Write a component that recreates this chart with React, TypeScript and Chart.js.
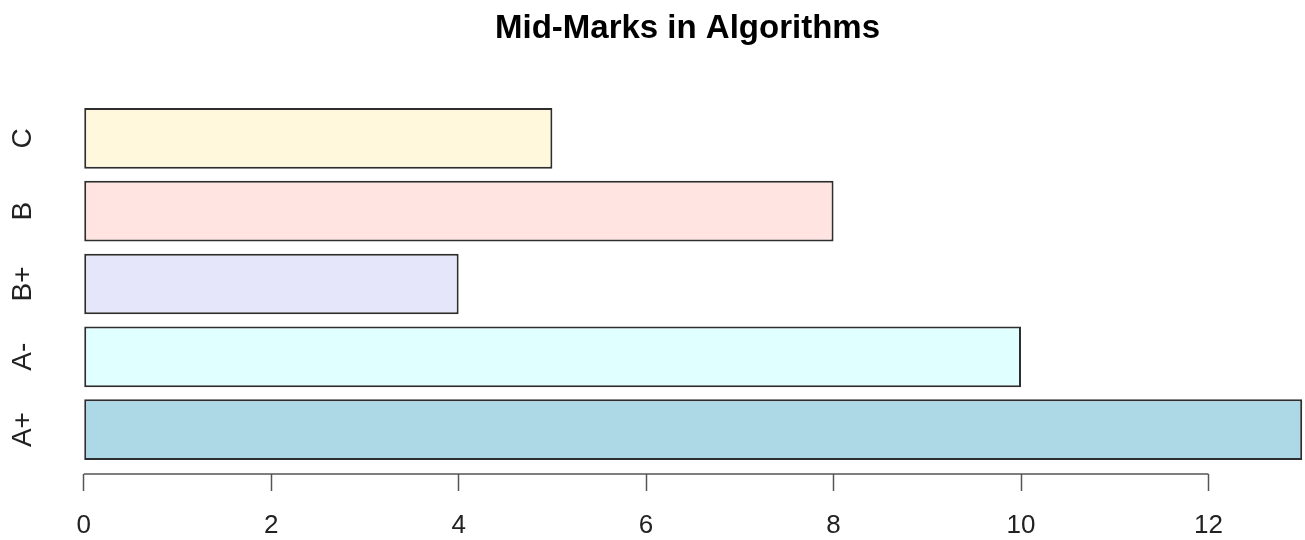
import React, { useEffect, useRef } from "react";
import { Chart, registerables } from "chart.js";

Chart.register(...registerables);

const categories = ["A+", "A-", "B+", "B", "C"];
const marks = [13, 10, 4, 8, 5];
const barColors = ["#ADD8E6", "#E0FFFF", "#E6E6FA", "#FFE4E1", "#FFF8DC"];
const xTicks = [0, 2, 4, 6, 8, 10, 12];
// R barplot positions (space = 0.2, width = 1)
const barCenters = [0.7, 1.9, 3.1, 4.3, 5.5];

const FONT = "'Liberation Sans', Arial, Helvetica, sans-serif";

const axisLinePlugin = {
  id: "rAxisLine",
  afterLayout(chart: any) {
    // R centres the title over the (wider) plot region
    const tb = chart.titleBlock;
    if (tb) {
      tb.left += 35;
      tb.right += 35;
    }
  },
  afterDraw(chart: any) {
    const xs = chart.scales.x;
    const ctx = chart.ctx;
    const y = chart.chartArea.bottom;
    ctx.save();
    ctx.strokeStyle = "#555555";
    ctx.lineWidth = 1.5;
    ctx.beginPath();
    ctx.moveTo(xs.getPixelForValue(xTicks[0]), y);
    ctx.lineTo(xs.getPixelForValue(xTicks[xTicks.length - 1]), y);
    ctx.stroke();
    ctx.restore();
  },
};

export default function App() {
  const ref = useRef<HTMLCanvasElement>(null);
  useEffect(() => {
    document.body.style.margin = "0";
    const chart = new Chart(ref.current!, {
      type: "bar",
      data: {
        datasets: [
          {
            data: marks.map((v, i) => ({ x: v, y: barCenters[i] })),
            backgroundColor: barColors,
            borderColor: "#2e2e2e",
            borderWidth: 2,
            borderSkipped: false,
            barPercentage: 1 / 1.2,
            categoryPercentage: 1,
          },
        ],
      },
      options: {
        indexAxis: "y",
        responsive: false,
        animation: false,
        events: [],
        layout: { padding: 0 },
        plugins: {
          legend: { display: false },
          tooltip: { enabled: false },
          title: {
            display: true,
            text: "Mid-Marks in Algorithms",
            color: "#000",
            font: { family: FONT, size: 33, weight: "bold" },
            padding: { top: 9, bottom: 45.4 },
          },
        },
        scales: {
          x: {
            type: "linear",
            min: -0.52,
            max: 13.03,
            offset: false,
            afterBuildTicks: (s: any) => {
              s.ticks = xTicks.map((v) => ({ value: v }));
            },
            afterFit: (s: any) => {
              s.height = 66;
            },
            border: { display: false },
            grid: {
              drawOnChartArea: false,
              drawTicks: true,
              tickLength: 17,
              tickWidth: 1.5,
              color: "#555555",
            },
            ticks: {
              color: "#222",
              font: { family: FONT, size: 26 },
              padding: 19,
              maxRotation: 0,
              autoSkip: false,
            },
          },
          y: {
            type: "linear",
            min: -0.032,
            max: 6.232,
            offset: false,
            afterBuildTicks: (s: any) => {
              s.ticks = barCenters.map((v) => ({ value: v }));
            },
            afterFit: (s: any) => {
              s.width = 35;
            },
            border: { display: false },
            grid: { display: false },
            ticks: {
              color: "#222",
              font: { family: FONT, size: 28 },
              minRotation: 90,
              maxRotation: 90,
              crossAlign: "center",
              padding: -14,
              autoSkip: false,
              callback: (v: any) => {
                const i = barCenters.indexOf(Number(v));
                return i >= 0 ? categories[i] : "";
              },
            },
          },
        },
      },
      plugins: [axisLinePlugin],
    } as any);
    return () => chart.destroy();
  }, []);
  return (
    <div style={{ position: "absolute", left: 0, top: 0, width: 1305, height: 540, background: "#fff" }}>
      <canvas ref={ref} width={1305} height={540} />
    </div>
  );
}
